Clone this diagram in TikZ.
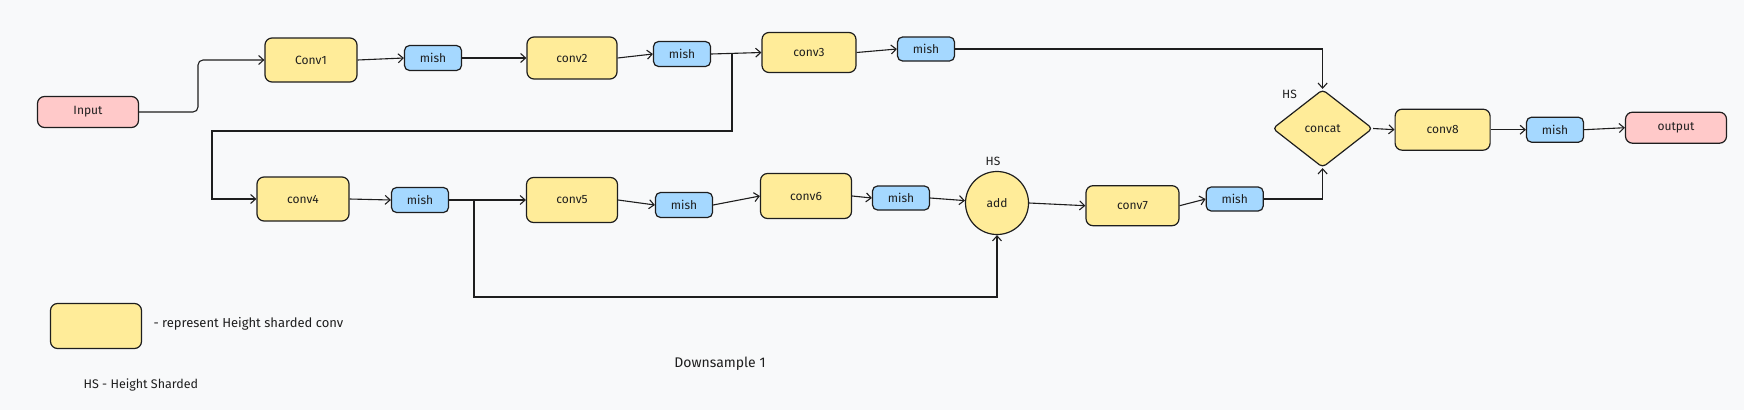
\documentclass[tikz,border=0pt]{standalone}
\usepackage{fontspec}
\setmainfont{Fira Sans}
\usetikzlibrary{arrows.meta,shapes.geometric}
\definecolor{bg}{HTML}{F8F9FA}
\definecolor{yel}{HTML}{FFEC99}
\definecolor{blu}{HTML}{A5D8FF}
\definecolor{pnk}{HTML}{FFC9C9}
\definecolor{ink}{HTML}{1E1E1E}
\begin{document}
\begin{tikzpicture}[x=1pt,y=-1pt,
  every node/.style={font=\fontsize{12}{14}\selectfont, text=ink},
  base/.style={draw=ink, line width=1.2pt, rounded corners=7pt, inner sep=0pt},
  conv/.style={base, fill=yel, minimum width=92pt, minimum height=44pt},
  act/.style={base, fill=blu, minimum width=57pt, minimum height=25pt, rounded corners=5pt},
  io/.style={base, fill=pnk, minimum width=101pt, minimum height=31pt},
  arr/.style={draw=ink, line width=1.1pt, -{Straight Barb[length=5pt,width=9pt]}},
  ln/.style={draw=ink, line width=1.1pt}]
\fill[bg] (0,0) rectangle (1744,410);
\useasboundingbox (0,0) rectangle (1744,410);
% nodes
\node[io] (in) at (88,112) {Input};
\node[conv] (c1) at (311,60) {Conv1};
\node[act] (m1) at (433,58) {mish};
\node[conv, minimum width=90pt, minimum height=42pt] (c2) at (572,58) {conv2};
\node[act] (m2) at (682,54) {mish};
\node[conv, minimum width=94pt, minimum height=40pt] (c3) at (809,52.5) {conv3};
\node[act, minimum height=24pt] (m3) at (926,49) {mish};
\node[conv] (c4) at (303,199) {conv4};
\node[act] (m4) at (420,200) {mish};
\node[conv, minimum width=91pt, minimum height=45pt] (c5) at (572,200) {conv5};
\node[act] (m5) at (684,205) {mish};
\node[conv, minimum width=91pt, minimum height=45pt] (c6) at (806,196) {conv6};
\node[act, minimum height=24pt] (m6) at (901,198) {mish};
\node[circle, draw=ink, line width=1.2pt, fill=yel, minimum size=63pt, inner sep=0pt] (add) at (997,203) {add};
\node (hs1) at (993,161.5) {HS};
\node[conv, minimum width=93pt, minimum height=40pt] (c7) at (1132.5,205.7) {conv7};
\node[act, minimum height=24pt] (m7) at (1234.7,199) {mish};
\node[diamond, draw=ink, line width=1.2pt, fill=yel, rounded corners=4pt, inner sep=0pt,
      minimum width=100pt, minimum height=78pt, aspect=1.28] (cc) at (1322.6,128.5) {concat};
\node (hs2) at (1289.5,94) {HS};
\node[conv, minimum width=95pt, minimum height=41pt] (c8) at (1442.6,129.7) {conv8};
\node[act] (m8) at (1555,129.7) {mish};
\node[io] (out) at (1676,127.7) {output};
% legend
\node[conv, minimum width=91pt, minimum height=45pt] (leg) at (96,326) {};
\node[anchor=west, font=\fontsize{13}{15}\selectfont] (legt) at (150,324) {- represent Height sharded conv};
\node[anchor=west, font=\fontsize{12.5}{15}\selectfont] (hsl) at (80,385) {HS - Height Sharded};
\node[font=\fontsize{14}{16}\selectfont] (title) at (720,364) {Downsample 1};
% connectors
\draw[arr, rounded corners=5pt] (in.east) -- (198,112) |- (c1.west);
\draw[arr] (c1.east) -- (m1.west);
\draw[arr] (m1.east) -- (c2.west);
\draw[arr] (c2.east) -- (m2.west);
\draw[arr] (m2.east) -- (c3.west);
\coordinate (sp1) at (732,53);
\draw[arr] (sp1) -- (732,131) -- (212,131) |- (c4.west);
\draw[arr] (c3.east) -- (m3.west);
\draw[arr] (m3.east) -| (cc.north);
\draw[arr] (c4.east) -- (m4.west);
\draw[arr] (m4.east) -- (c5.west);
\coordinate (sp2) at (474,200);
\draw[arr] (sp2) -- (474,297) -| (add.south);
\draw[arr] (c5.east) -- (m5.west);
\draw[arr] (m5.east) -- (c6.west);
\draw[arr] (c6.east) -- (m6.west);
\draw[arr] (m6.east) -- (add);
\draw[arr] (add.east) -- (c7.west);
\draw[arr] (c7.east) -- (m7.west);
\draw[arr] (m7.east) -| (cc.south);
\draw[arr] (cc.east) -- (c8.west);
\draw[arr] (c8.east) -- (m8.west);
\draw[arr] (m8.east) -- (out.west);
\end{tikzpicture}
\end{document}
